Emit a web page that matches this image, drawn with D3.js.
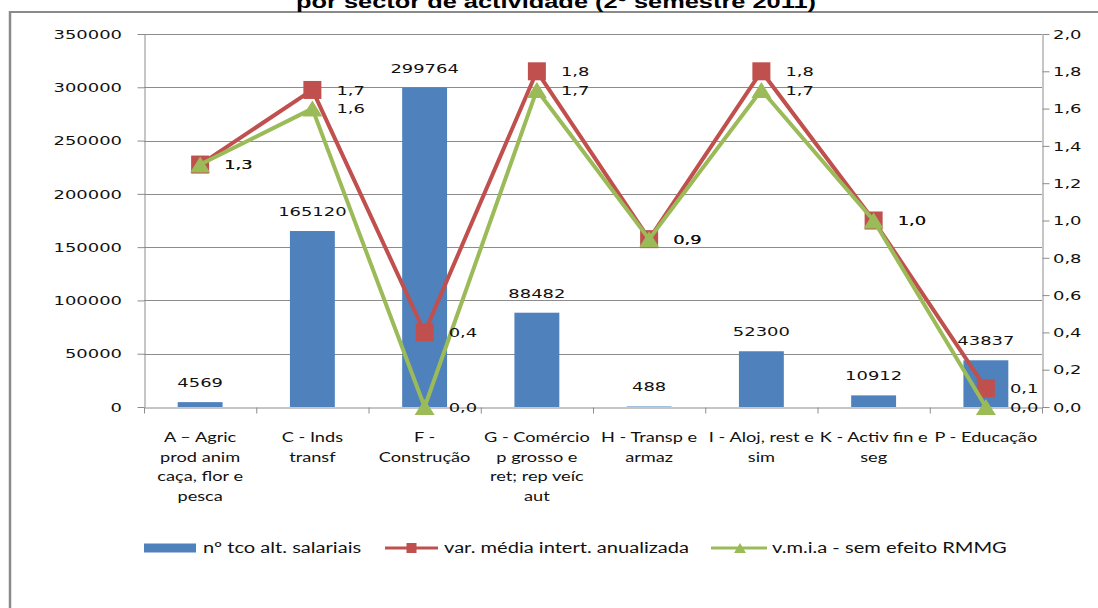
<!DOCTYPE html>
<html><head><meta charset="utf-8">
<script src="https://cdn.jsdelivr.net/npm/d3@7"></script>
<style>body{margin:0;background:#fff;overflow:hidden}</style>
</head><body><svg id="c" width="1098" height="608"></svg>
<script>
const title = "por sector de actividade (2º semestre 2011)";
const categories = ["A","C","F","G","H","I","K","P"];
const categoryLines = [
  ["A – Agric","prod anim","caça, flor e","pesca"],
  ["C - Inds","transf"],
  ["F -","Construção"],
  ["G - Comércio","p grosso e","ret; rep veíc","aut"],
  ["H - Transp e","armaz"],
  ["I - Aloj, rest e","sim"],
  ["K - Activ fin e","seg"],
  ["P - Educação"]
];
const barValues = [4569,165120,299764,88482,488,52300,10912,43837];
const varMedia = [1.3,1.7,0.4,1.8,0.9,1.8,1.0,0.1];
const vmiaSemRMMG = [1.3,1.6,0.0,1.7,0.9,1.7,1.0,0.0];
const leftTicks = [0,50000,100000,150000,200000,250000,300000,350000];
const rightTicks = [0,0.2,0.4,0.6,0.8,1.0,1.2,1.4,1.6,1.8,2.0];
const seriesNames = ["nº tco alt. salariais","var. média intert. anualizada","v.m.i.a - sem efeito RMMG"];

const C_BAR="#4F81BD", C_RED="#C0504D", C_GREEN="#9BBB59", C_AX="#8c8c8c";
const svg = d3.select("#c");
const L=144, R=1042, T=34, B=407;

const x = d3.scaleBand().domain(categories).range([L,R]).paddingInner(0.6).paddingOuter(0.3);
const xc = c => x(c)+x.bandwidth()/2;
const xIdx = d3.scaleLinear().domain([0,categories.length]).range([L,R]);
const yL = d3.scaleLinear().domain([0,350000]).range([B,T]);
const yR = d3.scaleLinear().domain([0,2]).range([B,T]);
const fmtR = v => d3.format(".1f")(v).replace(".",",");

function stext(parent, px, py, txt, anchor, o){
  const g = parent.append("g").attr("transform",`translate(${px},${py}) scale(${o.sx},1)`);
  g.append("text").attr("text-anchor",anchor).attr("font-family",o.ff).attr("font-size",o.fs)
   .attr("font-weight",o.fw||"normal").attr("fill",o.fill||"#000").text(txt);
  return g;
}
const NUM={ff:"'DejaVu Sans',Verdana,sans-serif",fs:13,sx:1.38,fill:"#111"};
const CAT={ff:"Lato,'Open Sans',sans-serif",fs:14,sx:1.3,fill:"#111"};
const LEG={ff:"Lato,'Open Sans',sans-serif",fs:15,sx:1.34,fill:"#111"};

// frame
svg.append("line").attr("x1",9).attr("x2",1098).attr("y1",12).attr("y2",12).attr("stroke","#8a8a8a").attr("stroke-width",2);
svg.append("line").attr("x1",10).attr("x2",10).attr("y1",11).attr("y2",608).attr("stroke","#8a8a8a").attr("stroke-width",2.5);

// title (top part cut off, as in the reference)
svg.append("text").attr("x",556).attr("y",8).attr("text-anchor","middle")
  .attr("font-family","'Liberation Sans',Arial,sans-serif").attr("font-weight","bold").attr("font-size",19)
  .attr("textLength",520).attr("lengthAdjust","spacingAndGlyphs").text(title);

// gridlines
svg.append("g").selectAll("line").data(leftTicks.filter(v=>v>0)).join("line")
  .attr("x1",L).attr("x2",R).attr("y1",d=>Math.round(yL(d))+0.5).attr("y2",d=>Math.round(yL(d))+0.5)
  .attr("stroke",C_AX).attr("stroke-width",1);

// axes
const gl = svg.append("g").attr("transform",`translate(${L+0.5},0)`)
  .call(d3.axisLeft(yL).tickValues(leftTicks).tickSize(7).tickSizeOuter(0).tickFormat(""));
const gr = svg.append("g").attr("transform",`translate(${R+0.5},0)`)
  .call(d3.axisRight(yR).tickValues(rightTicks).tickSize(7).tickSizeOuter(0).tickFormat(""));
const gb = svg.append("g").attr("transform",`translate(0,${B+0.5})`)
  .call(d3.axisBottom(xIdx).tickValues(d3.range(categories.length+1)).tickSize(6).tickSizeOuter(0).tickFormat(""));
[gl,gr,gb].forEach(g=>{g.selectAll("path,line").attr("stroke",C_AX).attr("stroke-width",1);});

// tick labels
leftTicks.forEach(v=>stext(svg,122,yL(v)+4.7,String(v),"end",NUM));
rightTicks.forEach(v=>stext(svg,1053,yR(v)+4.7,fmtR(v),"start",NUM));

// category labels
categories.forEach((c,i)=>{
  categoryLines[i].forEach((ln,j)=>stext(svg,xc(c),442+j*19.5,ln,"middle",CAT));
});

// bars
svg.append("g").selectAll("rect").data(barValues).join("rect")
  .attr("x",(d,i)=>x(categories[i])).attr("width",x.bandwidth())
  .attr("y",d=>yL(d)).attr("height",d=>B-yL(d)).attr("fill",C_BAR);
barValues.forEach((v,i)=>stext(svg,xc(categories[i]),yL(v)-15,String(v),"middle",NUM));

// lines
const lineR = d3.line().x((d,i)=>xc(categories[i])).y(d=>yR(d));
svg.append("path").attr("d",lineR(varMedia)).attr("fill","none").attr("stroke",C_RED).attr("stroke-width",4).attr("stroke-linejoin","round");
svg.append("g").selectAll("rect").data(varMedia).join("rect")
  .attr("x",(d,i)=>xc(categories[i])-9).attr("y",d=>yR(d)-9).attr("width",18).attr("height",18).attr("fill",C_RED);
svg.append("path").attr("d",lineR(vmiaSemRMMG)).attr("fill","none").attr("stroke",C_GREEN).attr("stroke-width",4).attr("stroke-linejoin","round");
const tri = (cx,cy,w,h)=>`M${cx},${cy-h/2}L${cx+w/2},${cy+h/2}L${cx-w/2},${cy+h/2}Z`;
svg.append("g").selectAll("path").data(vmiaSemRMMG).join("path")
  .attr("d",(d,i)=>tri(xc(categories[i]),yR(d),20,16)).attr("fill",C_GREEN);

// line labels
varMedia.forEach((v,i)=>stext(svg,xc(categories[i])+24,yR(v)+4.7,fmtR(v),"start",NUM));
vmiaSemRMMG.forEach((v,i)=>stext(svg,xc(categories[i])+24,yR(v)+4.7,fmtR(v),"start",NUM));

// legend
const LY=548;
svg.append("rect").attr("x",144).attr("y",LY-4.5).attr("width",52).attr("height",9).attr("fill",C_BAR);
stext(svg,203,LY+5,seriesNames[0],"start",LEG);
svg.append("line").attr("x1",385).attr("x2",438).attr("y1",LY).attr("y2",LY).attr("stroke",C_RED).attr("stroke-width",3);
svg.append("rect").attr("x",411.5-5).attr("y",LY-5).attr("width",10).attr("height",10).attr("fill",C_RED);
stext(svg,444,LY+5,seriesNames[1],"start",LEG);
svg.append("line").attr("x1",711).attr("x2",767).attr("y1",LY).attr("y2",LY).attr("stroke",C_GREEN).attr("stroke-width",3);
svg.append("path").attr("d",tri(740,LY,12,10)).attr("fill",C_GREEN);
stext(svg,772,LY+5,seriesNames[2],"start",LEG);
</script></body></html>
